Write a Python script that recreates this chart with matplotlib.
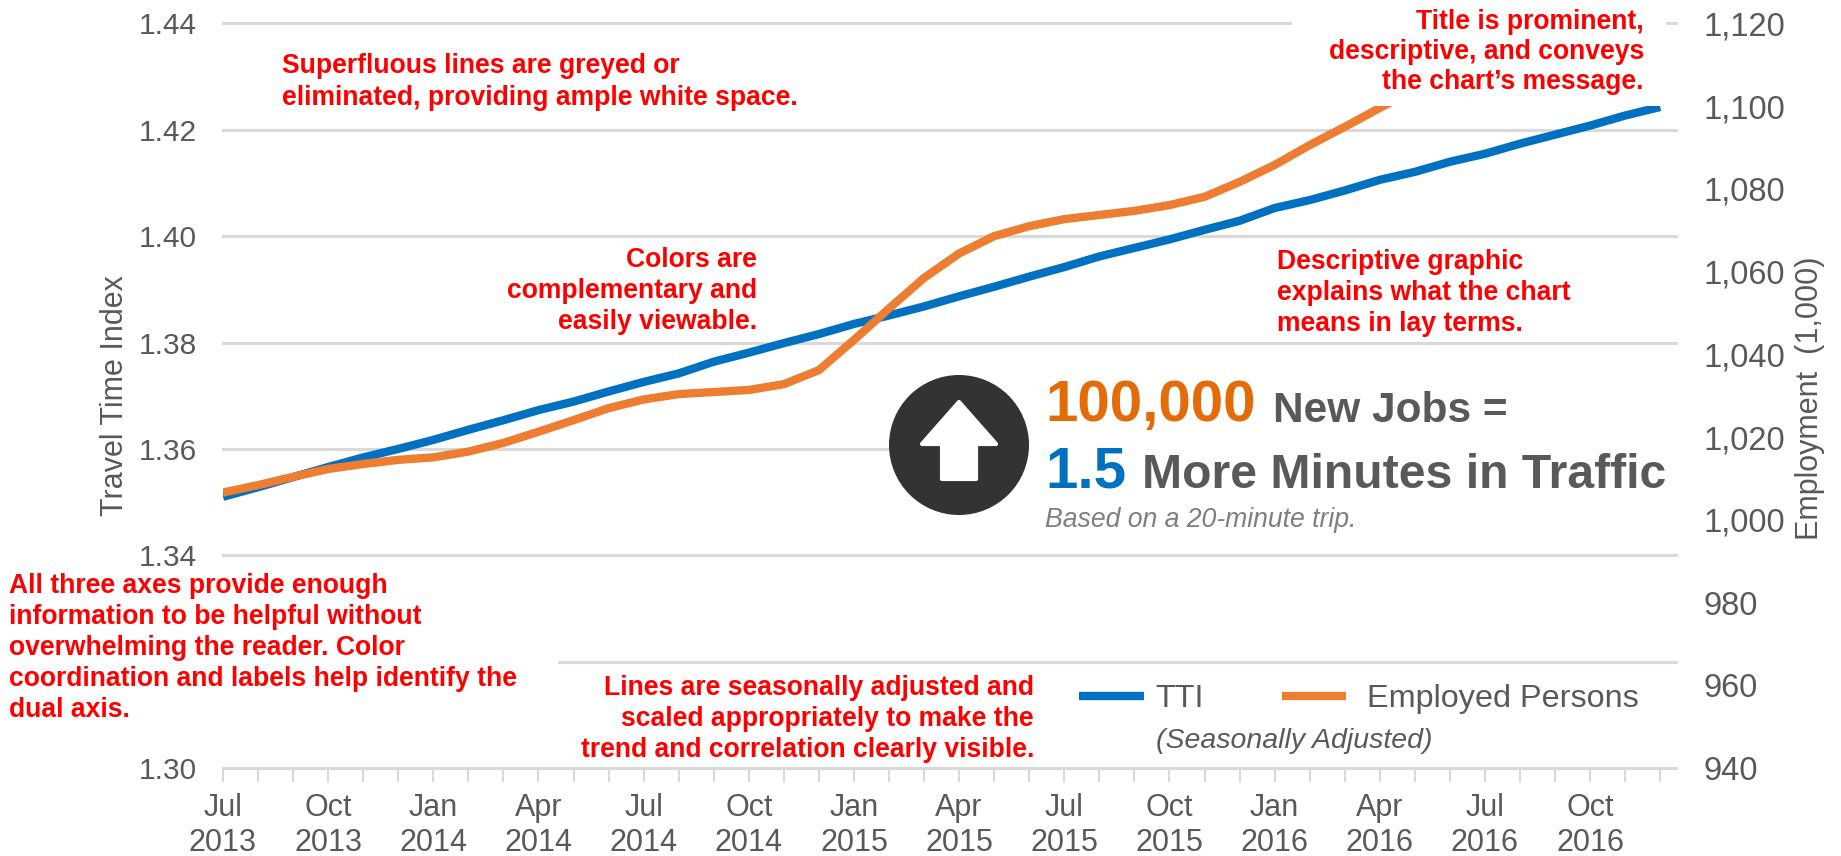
import matplotlib
matplotlib.use('Agg')
import matplotlib.pyplot as plt
from matplotlib.patches import Rectangle, Ellipse, Polygon

plt.rcParams['font.family'] = ['Liberation Sans', 'DejaVu Sans']

# Monthly data, Jul 2013 - Dec 2016
tti = [1.3510, 1.3528, 1.3547, 1.3566, 1.3584, 1.3600, 1.3617, 1.3636, 1.3654,
       1.3673, 1.3689, 1.3708, 1.3726, 1.3742, 1.3764, 1.3781, 1.3799, 1.3816,
       1.3835, 1.3851, 1.3868, 1.3887, 1.3905, 1.3924, 1.3942, 1.3962, 1.3978,
       1.3994, 1.4012, 1.4029, 1.4053, 1.4068, 1.4086, 1.4106, 1.4121, 1.4140,
       1.4155, 1.4174, 1.4191, 1.4208, 1.4227, 1.4243]
employed = [1006.6, 1008.4, 1010.4, 1012.3, 1013.5, 1014.5, 1015.1, 1016.5, 1018.6,
            1021.3, 1024.1, 1027.0, 1029.1, 1030.4, 1030.9, 1031.4, 1032.8, 1036.2,
            1043.5, 1051.1, 1058.5, 1064.4, 1068.6, 1071.0, 1072.7, 1073.7, 1074.7,
            1076.1, 1078.1, 1081.7, 1085.8, 1090.6, 1095.0, 1099.6, 1104.0]
quarter_labels = ['Jul\n2013', 'Oct\n2013', 'Jan\n2014', 'Apr\n2014', 'Jul\n2014', 'Oct\n2014',
                  'Jan\n2015', 'Apr\n2015', 'Jul\n2015', 'Oct\n2015', 'Jan\n2016', 'Apr\n2016',
                  'Jul\n2016', 'Oct\n2016']
tti_ticks = [1.30, 1.34, 1.36, 1.38, 1.40, 1.42, 1.44]
grid_levels = [1.30, 1.32, 1.34, 1.36, 1.38, 1.40, 1.42, 1.44]
emp_ticks = [940, 960, 980, 1000, 1020, 1040, 1060, 1080, 1100, 1120]

BLUE = '#0070C0'
ORANGE = '#ED7D31'
GREY = '#595959'
GRID = '#D9D9D9'
W, H = 1841, 856

fig = plt.figure(figsize=(W / 100, H / 100), dpi=100)
ax = fig.add_axes([223 / W, 1 - 768 / H, (1676 - 223) / W, (768 - 23.5) / H])
ax2 = ax.twinx()

ax.set_xlim(0, 41.45)
ax.set_ylim(1.30, 1.44)
ax2.set_ylim(940, 1120)

for level in grid_levels:
    ax.axhline(level, color=GRID, lw=2.2, zorder=1, clip_on=False)

line_tti, = ax.plot(range(len(tti)), tti, color=BLUE, lw=6, zorder=3,
                    solid_capstyle='butt', solid_joinstyle='round')
line_emp, = ax2.plot(range(len(employed)), employed, color=ORANGE, lw=6, zorder=3,
                     solid_capstyle='butt', solid_joinstyle='round')

ax.set_xticks(range(0, 42, 3), quarter_labels)
ax.set_xticks(range(42), minor=True)
ax.tick_params(axis='x', which='both', length=10, width=1.5, color=GRID)
ax.tick_params(axis='x', which='major', labelsize=22, labelcolor=GREY, pad=8)
ax.set_yticks(tti_ticks, [f'{v:.2f}' for v in tti_ticks])
ax.tick_params(axis='y', length=0, labelsize=21.5, labelcolor=GREY, pad=19)
ax2.set_yticks(emp_ticks, [f'{v:,}' for v in emp_ticks])
ax2.tick_params(axis='y', length=0, labelsize=23.5, labelcolor=GREY, pad=19.5)
for label in ax.get_xticklabels():
    label.set_linespacing(1.2)

for a in (ax, ax2):
    for spine in a.spines.values():
        spine.set_visible(False)

ax.set_ylabel('Travel Time Index', fontsize=22, color=GREY, va='center')
ax.yaxis.set_label_coords(-0.0743, 0.5)
ax2.set_ylabel('Employment  (1,000)', fontsize=22, color=GREY, va='center')
ax2.yaxis.set_label_coords(1.0924, 0.496)

ax2.legend([line_tti, line_emp], ['TTI', ' Employed Persons'], ncol=2, frameon=False,
           loc='lower left', bbox_to_anchor=(1079 / W, 1 - 714 / H), bbox_transform=fig.transFigure,
           fontsize=23.3, labelcolor=GREY, handlelength=2.0, columnspacing=2.4,
           handletextpad=0.36, borderpad=0, borderaxespad=0)

# Overlay in pixel coordinates for the notes and the graphic
over = fig.add_axes([0, 0, 1, 1], zorder=10)
over.set_xlim(0, W)
over.set_ylim(H, 0)
over.axis('off')

over.add_patch(Rectangle((1292, 0), 1666 - 1292, 106, color='white', lw=0))
over.add_patch(Rectangle((0, 570), 558, 180, color='white', lw=0))
over.add_patch(Rectangle((959, 350), 721, 190, color='white', lw=0))

# Graphic
over.add_patch(Ellipse((959, 445), 140, 140, color='#333333', lw=0))
arrow = [(959, 402), (996, 444), (976, 444), (976, 479), (942, 479), (942, 444), (922, 444)]
over.add_patch(Polygon(arrow, closed=True, facecolor='white', edgecolor='white', lw=3, joinstyle='round'))

over.text(1045, 421, '100,000', color='#E36C09', fontsize=42, fontweight='bold', va='baseline')
over.text(1273, 422, 'New Jobs =', color=GREY, fontsize=30.5, fontweight='bold', va='baseline')
over.text(1045, 487, '1.5', color=BLUE, fontsize=42, fontweight='bold', va='baseline')
over.text(1142, 488, 'More Minutes in Traffic', color=GREY, fontsize=34.7, fontweight='bold', va='baseline')
over.text(1045, 527, 'Based on a 20-minute trip.', color='#7F7F7F', fontsize=19.2, style='italic', va='baseline')
over.text(1156, 741, '(Seasonally Adjusted)', color=GREY, fontsize=20.5, style='italic', va='center')

# Red notes
notes = [
    (282, 82, 'left', 1.3, 'Superfluous lines are greyed or\neliminated, providing ample white space.'),
    (1644, 52, 'right', 1.18, 'Title is prominent,\ndescriptive, and conveys\nthe chart\u2019s message.'),
    (757, 291, 'right', 1.24, 'Colors are\ncomplementary and\neasily viewable.'),
    (1277, 293, 'left', 1.24, 'Descriptive graphic\nexplains what the chart\nmeans in lay terms.'),
    (9, 648, 'left', 1.24, 'All three axes provide enough\ninformation to be helpful without\noverwhelming the reader. Color\n'
                           'coordination and labels help identify the\ndual axis.'),
    (1034, 719, 'right', 1.24, 'Lines are seasonally adjusted and\nscaled appropriately to make the\n'
                               'trend and correlation clearly visible.'),
]
for x, y, ha, spacing, note in notes:
    over.text(x, y, note, color='#FF0000', fontsize=19.1, fontweight='bold', ha=ha, va='center',
              multialignment=ha, linespacing=spacing)

fig.savefig('out.png', dpi=100)
